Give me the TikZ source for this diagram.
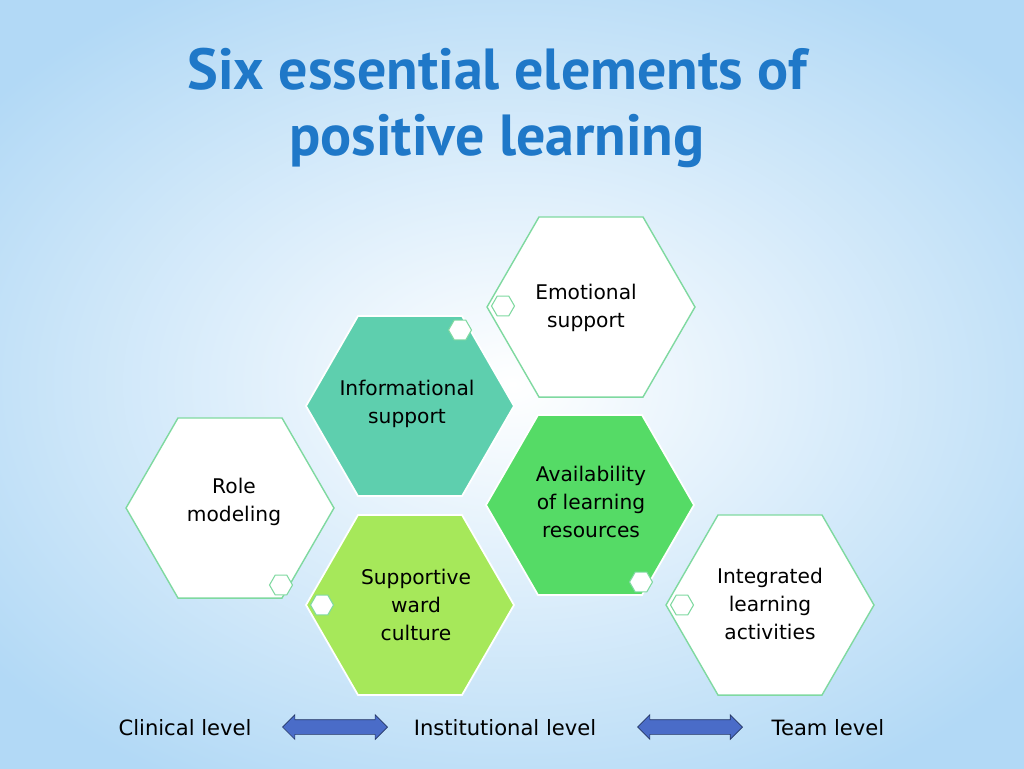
\documentclass[tikz,border=0pt]{standalone}
\usepackage{fontspec}
\setmainfont{DejaVu Sans}
\newfontfamily\titlefont{PT Sans}
\usetikzlibrary{shapes.geometric,shapes.arrows}
\definecolor{titleblue}{HTML}{1F78C8}
\definecolor{edgegreen}{HTML}{7FD9A0}
\definecolor{tealfill}{HTML}{5ECFAE}
\definecolor{greenfill}{HTML}{55DB66}
\definecolor{limefill}{HTML}{A6E85A}
\definecolor{arrowblue}{HTML}{4A6CC8}
\definecolor{skyblue}{HTML}{A4D2F4}
\tikzset{
  hexbox/.style={regular polygon, regular polygon sides=6, minimum size=4.16cm,
    inner sep=0pt},
  hextext/.style={align=center, font=\fontsize{11.5}{16}\selectfont},
  whitehex/.style={hexbox, fill=white, draw=edgegreen, line width=0.8pt},
  fillhex/.style={hexbox, draw=white, line width=1pt},
  tinyhex/.style={regular polygon, regular polygon sides=6, minimum size=0.46cm,
    inner sep=0pt, fill=white, draw=edgegreen, line width=0.6pt},
  levelarrow/.style={double arrow, double arrow head extend=0.1cm, minimum height=2.1cm,
    inner xsep=0pt, inner ysep=0.14cm, fill=arrowblue, draw=arrowblue!50!black},
  levellabel/.style={font=\fontsize{12}{14}\selectfont}
}
\begin{document}
\begin{tikzpicture}[x=0.02cm,y=-0.02cm]
\useasboundingbox (0,0) rectangle (1024,768);
\shade[inner color=white, outer color=skyblue!85] (-150,-80) rectangle (1174,848);

% title
\node (title) at (497,108) [align=center, text=titleblue,
  font=\titlefont\fontsize{33}{38}\selectfont\bfseries] {Six essential elements of\\positive learning};

% hexagons
\node (emo) at (591,307) [whitehex] {};
\node (info) at (410,406) [fillhex, fill=tealfill] {};
\node (avail) at (590,505) [fillhex, fill=greenfill] {};
\node (role) at (230,508) [whitehex] {};
\node (ward) at (410,605) [fillhex, fill=limefill] {};
\node (integ) at (770,605) [whitehex] {};
\node (emotext) at (586,308) [hextext] {Emotional\\support};
\node (infotext) at (407,404) [hextext] {Informational\\support};
\node (availtext) at (591,502) [hextext] {Availability\\of learning\\resources};
\node (roletext) at (234,502) [hextext] {Role\\modeling};
\node (wardtext) at (416,605) [hextext] {Supportive\\ward\\culture};
\node (integtext) at (770,604) [hextext] {Integrated\\learning\\activities};

% small hexagons
\node (t1) at (460,330) [tinyhex] {};
\node (t2) at (503,306) [tinyhex] {};
\node (t3) at (281,585) [tinyhex] {};
\node (t4) at (322,605) [tinyhex] {};
\node (t5) at (641,582) [tinyhex] {};
\node (t6) at (682,605) [tinyhex] {};

% levels
\node (clin) at (185,728) [levellabel] {Clinical level};
\node (inst) at (505,728) [levellabel] {Institutional level};
\node (team) at (828,728) [levellabel] {Team level};
\node (a1) at (335,727) [levelarrow] {};
\node (a2) at (690,727) [levelarrow] {};
\end{tikzpicture}
\end{document}
